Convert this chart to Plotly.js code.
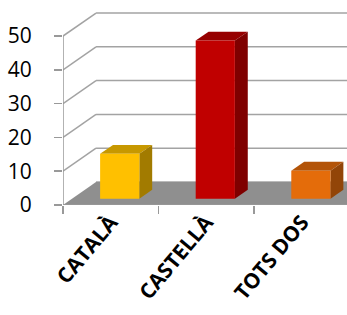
<!DOCTYPE html>
<html>
<head>
<meta charset="utf-8">
<script src="https://cdn.plot.ly/plotly-3.0.1.min.js"></script>
<style>
html,body{margin:0;padding:0;background:#fff;overflow:hidden;width:347px;height:315px;}
#chart{width:400px;height:315px;}
</style>
</head>
<body>
<div id="chart"></div>
<script>
// Data
const categories = ["CATALÀ", "CASTELLÀ", "TOTS DOS"];
const values = [13.3, 46.8, 8.3];
const yTicks = [0, 10, 20, 30, 40, 50];
const frontColors = ["#FFC000", "#C00000", "#E46C0A"];
const topColors = ["#C79800", "#960000", "#B35408"];
const sideColors = ["#A27B00", "#7F0000", "#924508"];

// 3D geometry (in axis units)
const DX = 0.3455;   // depth shift in category units
const DY = 6.8;      // depth shift in value units
const F1 = 0.27;     // bar front at this fraction of depth
const FD = 0.39;     // bar depth fraction
const W = 0.41;      // bar width
const n = categories.length;
const xL = -0.5, xR = n - 0.5;

const shapes = [];
const gridColor = "#A3A3A3";
yTicks.forEach(t => {
  if (t > 0) {
    shapes.push({type: "line", xref: "x", yref: "y", layer: "below",
      x0: xL, y0: t, x1: xL + DX, y1: t + DY, line: {color: gridColor, width: 1.5}});
  }
  shapes.push({type: "line", xref: "x", yref: "y", layer: "below",
    x0: xL + DX, y0: t + DY, x1: xR + DX, y1: t + DY, line: {color: gridColor, width: 1.5}});
});
shapes.push({type: "path", xref: "x", yref: "y", layer: "below",
  path: `M ${xL},0 L ${xR},0 L ${xR + DX},${DY} L ${xL + DX},${DY} Z`,
  fillcolor: "#8F8F8F", line: {width: 0}});
shapes.push({type: "line", xref: "x", yref: "y", layer: "below",
  x0: xL, y0: 0, x1: xL, y1: yTicks[yTicks.length - 1], line: {color: "#999999", width: 1.5}});
shapes.push({type: "line", xref: "x", yref: "y", layer: "below",
  x0: xL, y0: 0, x1: xR, y1: 0, line: {color: "#999999", width: 1.5}});

const base = F1 * DY;
const ddx = FD * DX, ddy = FD * DY;
values.forEach((v, i) => {
  const xl = i - W / 2 + F1 * DX;
  const xr = xl + W;
  const top = base + v;
  shapes.push({type: "path", xref: "x", yref: "y", layer: "below",
    path: `M ${xl},${top} L ${xr},${top} L ${xr + ddx},${top + ddy} L ${xl + ddx},${top + ddy} Z`,
    fillcolor: topColors[i], line: {width: 0}});
  shapes.push({type: "path", xref: "x", yref: "y", layer: "below",
    path: `M ${xr},${base} L ${xr},${top} L ${xr + ddx},${top + ddy} L ${xr + ddx},${base + ddy} Z`,
    fillcolor: sideColors[i], line: {width: 0}});
});

const trace = {
  type: "bar",
  x: categories,
  y: values,
  base: values.map(() => base),
  width: values.map(() => W),
  offset: values.map(() => -W / 2 + F1 * DX),
  marker: {color: frontColors, line: {width: 0}},
  hoverinfo: "skip"
};

const layout = {
  width: 400, height: 315,
  margin: {l: 63, r: 12, t: 11, b: 110},
  paper_bgcolor: "#fff", plot_bgcolor: "#fff",
  showlegend: false,
  xaxis: {
    type: "category", range: [xL, xR + 0.4],
    tickson: "boundaries", ticks: "outside", ticklen: 8, tickwidth: 1.5, tickcolor: "#999999",
    showgrid: false, zeroline: false, showline: false,
    tickangle: -50,
    tickfont: {family: "Open Sans, sans-serif", size: 21, color: "#000", weight: "bold"}
  },
  yaxis: {
    range: [0, 57.4], tickvals: yTicks, ticktext: yTicks.map(String),
    ticks: "outside", ticklen: 8, tickwidth: 1.5, tickcolor: "#999999",
    showgrid: false, zeroline: false, showline: false,
    ticklabelstandoff: 18,
    tickfont: {family: "Open Sans, sans-serif", size: 21, color: "#000"}
  },
  shapes: shapes
};

Plotly.newPlot("chart", [trace], layout, {displayModeBar: false, staticPlot: true});
</script>
</body>
</html>
